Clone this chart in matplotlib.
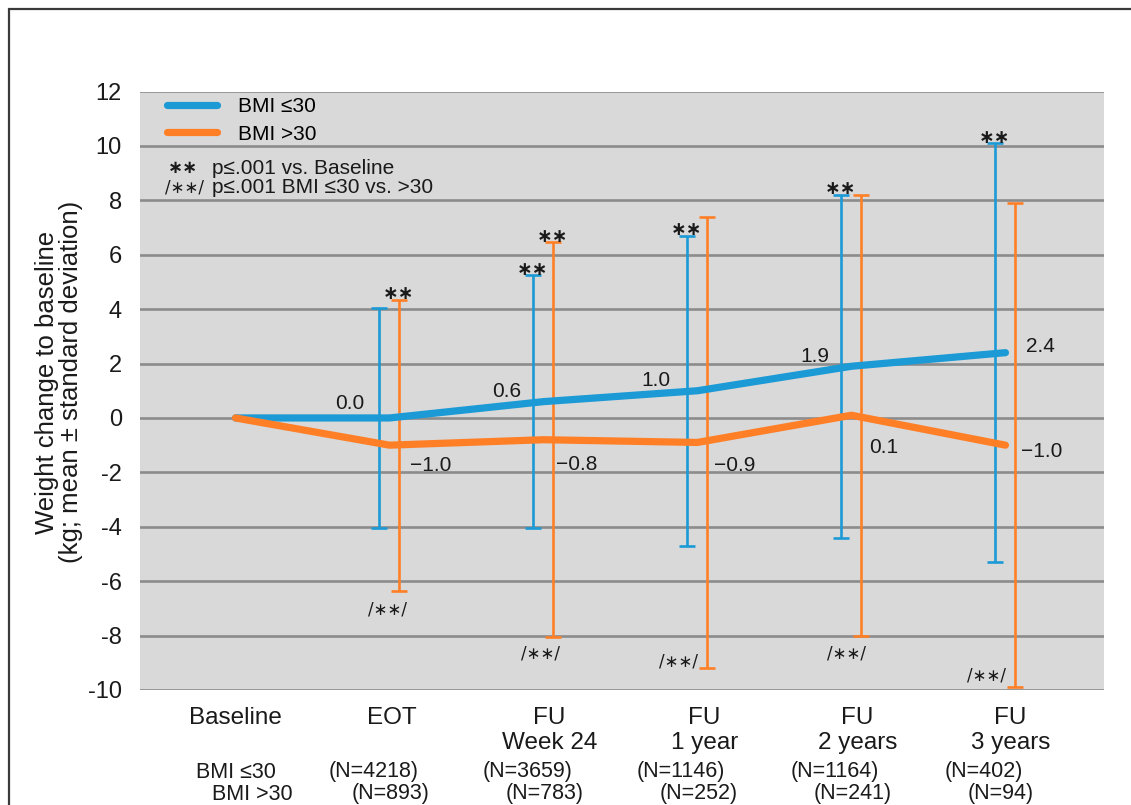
import matplotlib
matplotlib.use("Agg")
import matplotlib.pyplot as plt
from matplotlib.lines import Line2D
from matplotlib.patches import Rectangle

plt.rcParams['font.family'] = ['Liberation Sans', 'DejaVu Sans']
plt.rcParams['axes.unicode_minus'] = False

# ---- data ----
timepoints = ["Baseline", "EOT", "FU\nWeek 24", "FU\n1 year", "FU\n2 years", "FU\n3 years"]
mean_low = [0.0, 0.0, 0.6, 1.0, 1.9, 2.4]        # BMI <=30
sd_low = [None, 4.05, 4.65, 5.7, 6.3, 7.7]
mean_high = [0.0, -1.0, -0.8, -0.9, 0.1, -1.0]   # BMI >30
sd_high = [None, 5.35, 7.25, 8.3, 8.1, 8.9]
n_low = [None, 4218, 3659, 1146, 1164, 402]
n_high = [None, 893, 783, 252, 241, 94]
sig_base_low = [False, False, True, True, True, True]
sig_base_high = [False, True, True, False, False, False]
sig_group = [False, True, True, True, True, True]

BLUE = "#1b9ad6"
ORANGE = "#ff7f27"
GRID = "#8c8c8c"
BG = "#d9d9d9"
INK = "#1a1a1a"
STAR = "\u2217\u2217"
STAR_FONT = ['DejaVu Sans']

W, H = 1131, 805
fig = plt.figure(figsize=(W / 100, H / 100), dpi=100)
ax = fig.add_axes([140 / W, 1 - 690 / H, (1104 - 140) / W, (690 - 91.5) / H])

x = list(range(len(timepoints)))
ax.set_xlim(-0.62, 5.64)
ax.set_ylim(-10, 12)
ax.set_facecolor(BG)
for s in ax.spines.values():
    s.set_visible(False)
ax.set_yticks(range(-10, 13, 2))
ax.tick_params(axis='y', length=0, pad=13, labelsize=17, labelcolor=INK)
ax.set_xticks([])
for yv in range(-10, 13, 2):
    ax.axhline(yv, color=GRID, lw=1.9, zorder=1)

# error bars, offset slightly left (BMI <=30) and right (BMI >30)
dx_low, dx_high = -0.07, 0.06
for i in x[1:]:
    ax.errorbar(i + dx_low, mean_low[i], yerr=sd_low[i], fmt='none', ecolor=BLUE,
                elinewidth=1.9, capsize=5.5, capthick=1.9, zorder=3)
    ax.errorbar(i + dx_high, mean_high[i], yerr=sd_high[i], fmt='none', ecolor=ORANGE,
                elinewidth=1.9, capsize=5.5, capthick=1.9, zorder=3)

# mean lines
ax.plot(x, mean_low, color=BLUE, lw=5.2, solid_capstyle='round', solid_joinstyle='round', zorder=4)
ax.plot(x, mean_high, color=ORANGE, lw=5.2, solid_capstyle='round', solid_joinstyle='round', zorder=4)

def fmt(v):
    s = f"{abs(v):.1f}"
    return ("\u2212" + s) if v < 0 else s

# value labels (pixel offsets from the data point)
off_low = [None, (-40, 14), (-37, 10), (-42, 10), (-37, 10), (35, 6)]
off_high = [None, (41, -20), (33, -25), (37, -23), (32, -32), (36, -6)]
for i in x[1:]:
    ax.annotate(fmt(mean_low[i]), (i, mean_low[i]), xytext=off_low[i], textcoords='offset pixels',
                ha='center', va='center', fontsize=15, color=INK, zorder=5)
    ax.annotate(fmt(mean_high[i]), (i, mean_high[i]), xytext=off_high[i], textcoords='offset pixels',
                ha='center', va='center', fontsize=15, color=INK, zorder=5)

# significance vs baseline: stars above the upper cap
for i in x[1:]:
    if sig_base_low[i]:
        ax.annotate(STAR, (i + dx_low, mean_low[i] + sd_low[i]), xytext=(0, 6),
                    textcoords='offset pixels', ha='center', va='center', fontsize=13.5,
                    fontweight='bold', family=STAR_FONT, color=INK, zorder=5)
    if sig_base_high[i]:
        ax.annotate(STAR, (i + dx_high, mean_high[i] + sd_high[i]), xytext=(0, 6),
                    textcoords='offset pixels', ha='center', va='center', fontsize=13.5,
                    fontweight='bold', family=STAR_FONT, color=INK, zorder=5)

# significance between groups: placed near the lower end of the bars
group_pos = [None, (0.99, -7.05), (1.98, -8.64), (2.88, -8.97), (3.97, -8.64), (4.88, -9.48)]
for i in x[1:]:
    if sig_group[i]:
        ax.text(group_pos[i][0], group_pos[i][1], "/" + STAR + "/", ha='center', va='center',
                fontsize=12, family=STAR_FONT, color=INK, zorder=5)

# legend
handles = [Line2D([], [], color=BLUE, lw=5.2, solid_capstyle='round'),
           Line2D([], [], color=ORANGE, lw=5.2, solid_capstyle='round')]
ax.legend(handles, ["BMI \u226430", "BMI >30"], loc='upper left', bbox_to_anchor=(0.026, 0.994),
          frameon=False, fontsize=15, handlelength=2.4, handletextpad=1.0,
          labelspacing=0.4, borderpad=0.1, borderaxespad=0)
ax.text(0.029, 0.872, STAR, transform=ax.transAxes, ha='left', va='center', fontsize=13,
        fontweight='bold', family=STAR_FONT, color=INK)
ax.text(0.0747, 0.872, "p\u2264.001 vs. Baseline", transform=ax.transAxes, ha='left',
        va='center', fontsize=15, color=INK)
ax.text(0.026, 0.840, "/" + STAR + "/", transform=ax.transAxes, ha='left', va='center',
        fontsize=12, family=STAR_FONT, color=INK)
ax.text(0.0747, 0.840, "p\u2264.001 BMI \u226430 vs. >30", transform=ax.transAxes, ha='left',
        va='center', fontsize=15, color=INK)

# category labels and group sizes below the plot
lab_dx = [0, 2, 6, 7, 6, 5]
for i, lab in enumerate(timepoints):
    ax.annotate(lab, (i, 0), xycoords=('data', 'axes fraction'), xytext=(lab_dx[i], -17),
                textcoords='offset pixels', ha='center', va='top', fontsize=17.5,
                linespacing=1.17, color=INK)
ax.annotate("BMI \u226430", (0, 0), xycoords=('data', 'axes fraction'), xytext=(-39, -82),
            textcoords='offset pixels', ha='left', va='center', fontsize=15.5, color=INK)
ax.annotate("BMI >30", (0, 0), xycoords=('data', 'axes fraction'), xytext=(-23, -104),
            textcoords='offset pixels', ha='left', va='center', fontsize=15.5, color=INK)
for i in x[1:]:
    ax.annotate(f"(N={n_low[i]})", (i, 0), xycoords=('data', 'axes fraction'), xytext=(-61, -82),
                textcoords='offset pixels', ha='left', va='center', fontsize=15.5, color=INK)
    ax.annotate(f"(N={n_high[i]})", (i, 0), xycoords=('data', 'axes fraction'), xytext=(-38, -104),
                textcoords='offset pixels', ha='left', va='center', fontsize=15.5, color=INK)

fig.text(59 / W, 1 - 382 / H, "Weight change to baseline\n(kg; mean \u00b1 standard deviation)",
         rotation=90, ha='center', va='center', fontsize=18.5, linespacing=0.95, color=INK)

# outer frame
fig.add_artist(Rectangle((9 / W, -0.05), 1.1, 1 - 9 / H + 0.05, transform=fig.transFigure,
                         fill=False, edgecolor='#3a3a3a', lw=1.6))

fig.savefig("out.png", dpi=100, facecolor='white')
